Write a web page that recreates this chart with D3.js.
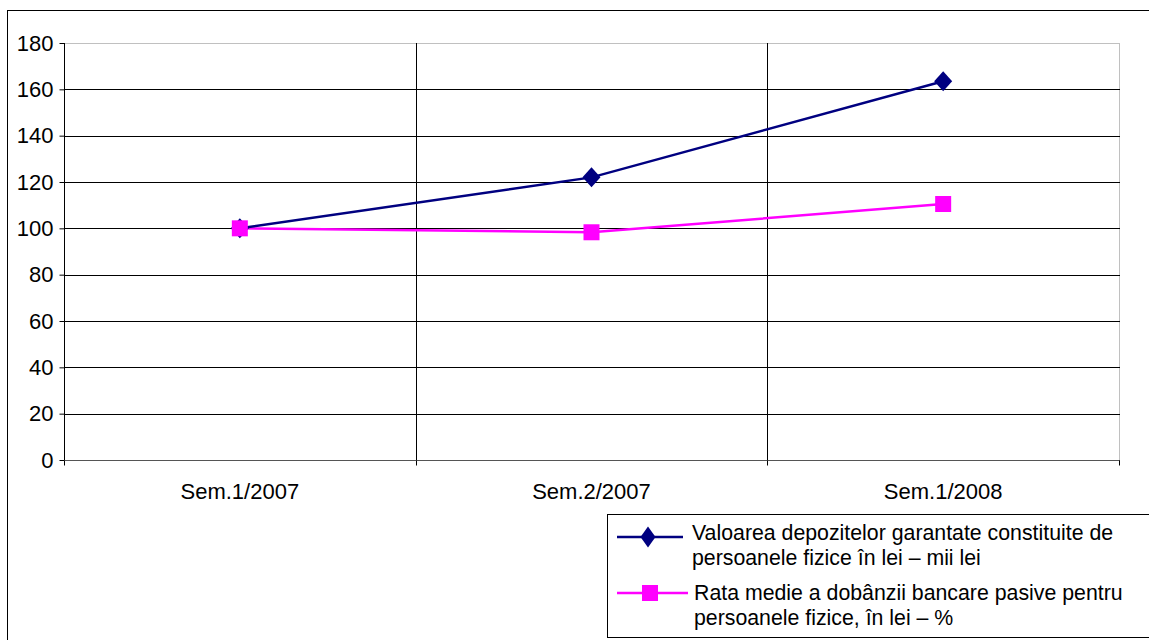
<!DOCTYPE html>
<html><head><meta charset="utf-8">
<script src="https://cdn.jsdelivr.net/npm/d3@7"></script>
<style>body{margin:0;background:#fff}svg{display:block}text{font-family:"Liberation Sans",Arial,sans-serif;fill:#000}</style>
</head><body>
<script>
const categories = ["Sem.1/2007", "Sem.2/2007", "Sem.1/2008"];
const depozite = [100, 122, 163.5];
const dobanda = [100, 98.3, 110.5];
const yTicks = [0, 20, 40, 60, 80, 100, 120, 140, 160, 180];
const seriesNames = [
  ["Valoarea depozitelor garantate constituite de", "persoanele fizice în lei – mii lei"],
  ["Rata medie a dobânzii bancare pasive pentru", "persoanele fizice, în lei – %"]
];

const W = 1149, H = 640;
const svg = d3.select("body").append("svg").attr("width", W).attr("height", H);

// outer chart border
svg.append("rect").attr("x", 7.5).attr("y", 10.5).attr("width", 1170).attr("height", 660)
  .attr("fill", "none").attr("stroke", "#000");

const L = 64, R = 1119, T = 43, B = 460;
const x = d3.scaleBand().domain(categories).range([L, R]).padding(0);
const y = d3.scaleLinear().domain([0, 180]).range([B, T]);

// plot border (grey)
svg.append("rect").attr("x", L + 0.5).attr("y", T + 0.5).attr("width", R - L).attr("height", B - T)
  .attr("fill", "none").attr("stroke", "#c0c0c0");

// horizontal gridlines
svg.append("g").selectAll("line").data(yTicks.filter(d => d > 0 && d < 180)).join("line")
  .attr("x1", L).attr("x2", R + 1)
  .attr("y1", d => Math.round(y(d)) + 0.5).attr("y2", d => Math.round(y(d)) + 0.5)
  .attr("stroke", "#000");

// vertical gridlines at category boundaries
const bounds = categories.slice(1).map(c => x(c));
svg.append("g").selectAll("line").data(bounds).join("line")
  .attr("x1", d => Math.round(d) + 0.5).attr("x2", d => Math.round(d) + 0.5)
  .attr("y1", T).attr("y2", B + 5).attr("stroke", "#000");

// y axis
const yAxis = d3.axisLeft(y).tickValues(yTicks).tickSize(5).tickPadding(6);
const gy = svg.append("g").attr("transform", `translate(${L + 0.5},0)`).call(yAxis);
gy.select(".domain").attr("stroke", "#000").attr("d", `M0,${T}V${B + 5}`);
gy.selectAll(".tick line").attr("stroke", "#000");
gy.selectAll(".tick text").attr("font-size", 22).attr("font-family", '"Liberation Sans",Arial,sans-serif').attr("fill", "#000");

// x axis
const gx = svg.append("g").attr("transform", `translate(0,${B + 0.5})`);
gx.append("line").attr("x1", L).attr("x2", R + 1).attr("stroke", "#555");
gx.selectAll("line.tk").data([L, ...bounds, R]).join("line").attr("class", "tk")
  .attr("x1", d => Math.round(d) + 0.5).attr("x2", d => Math.round(d) + 0.5)
  .attr("y1", 0).attr("y2", 5).attr("stroke", "#000");
gx.selectAll("text").data(categories).join("text")
  .attr("x", d => x(d) + x.bandwidth() / 2).attr("y", 38)
  .attr("text-anchor", "middle").attr("font-size", 22).text(d => d);

const cx = d => x(d) + x.bandwidth() / 2;
const line = d3.line().x((d, i) => cx(categories[i])).y(d => y(d));

// pink series
svg.append("path").datum(dobanda).attr("d", line).attr("fill", "none")
  .attr("stroke", "#ff00ff").attr("stroke-width", 2.5);
// navy series
svg.append("path").datum(depozite).attr("d", line).attr("fill", "none")
  .attr("stroke", "#000080").attr("stroke-width", 2.5);

const diamond = (w, h) => `M0,${-h}L${w},0L0,${h}L${-w},0Z`;
svg.append("g").selectAll("path").data(depozite).join("path")
  .attr("transform", (d, i) => `translate(${cx(categories[i])},${y(d)})`)
  .attr("d", diamond(9, 10)).attr("fill", "#000080");
svg.append("g").selectAll("rect").data(dobanda).join("rect")
  .attr("x", (d, i) => cx(categories[i]) - 8).attr("y", d => y(d) - 8)
  .attr("width", 16).attr("height", 16).attr("fill", "#ff00ff");

// legend
const lg = svg.append("g");
lg.append("rect").attr("x", 607.5).attr("y", 514.5).attr("width", 580).attr("height", 123)
  .attr("fill", "#fff").attr("stroke", "#000");
// entry 1
lg.append("line").attr("x1", 617).attr("x2", 683).attr("y1", 537).attr("y2", 537)
  .attr("stroke", "#000080").attr("stroke-width", 2.5);
lg.append("path").attr("transform", "translate(648,537)").attr("d", diamond(7.5, 10.5)).attr("fill", "#000080");
// entry 2
lg.append("line").attr("x1", 617).attr("x2", 688).attr("y1", 593).attr("y2", 593)
  .attr("stroke", "#ff00ff").attr("stroke-width", 2.5);
lg.append("rect").attr("x", 642).attr("y", 585).attr("width", 16).attr("height", 16).attr("fill", "#ff00ff");

const lx = [692, 694], ly = [540, 600];
seriesNames.forEach((lines, i) => {
  const t = lg.append("text").attr("x", lx[i]).attr("y", ly[i]).attr("font-size", 21.3);
  lines.forEach((s, j) => t.append("tspan").attr("x", lx[i]).attr("dy", j === 0 ? 0 : 25).text(s));
});
</script>
</body></html>
